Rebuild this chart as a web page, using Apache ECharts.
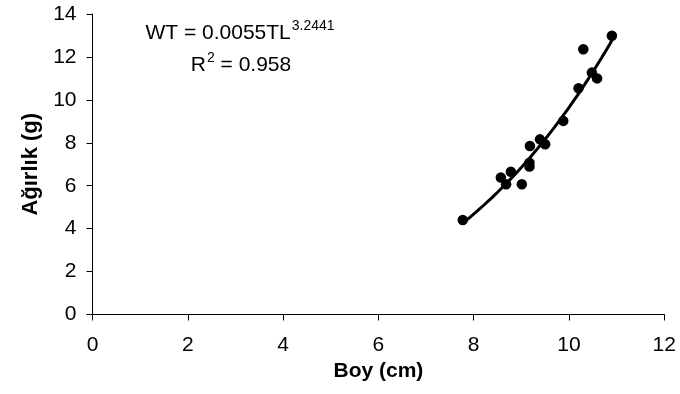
<!DOCTYPE html>
<html>
<head>
<meta charset="utf-8">
<script src="https://cdn.jsdelivr.net/npm/echarts@6/dist/echarts.min.js"></script>
<style>
  html, body { margin: 0; padding: 0; background: #fff; }
  #chart { width: 680px; height: 394px; }
</style>
</head>
<body>
<div id="chart"></div>
<script>
// Length (cm) and weight (g) of each fish
var boy = [7.77, 8.57, 8.68, 8.78, 9.01, 9.17, 9.17, 9.18, 9.39, 9.50, 9.88, 10.20, 10.30, 10.48, 10.59, 10.90];
var agirlik = [4.40, 6.38, 6.07, 6.65, 6.07, 6.89, 7.07, 7.85, 8.16, 7.93, 9.02, 10.54, 12.36, 11.27, 11.00, 12.99];

// Power-law fit WT = a * TL^b and its coefficient of determination
var fitA = 0.0055;
var fitB = 3.2441;
var fitR2 = 0.958;

// Axis tick values
var xTicks = [0, 2, 4, 6, 8, 10, 12];
var yTicks = [0, 2, 4, 6, 8, 10, 12, 14];

var points = boy.map(function (x, i) { return [x, agirlik[i]]; });

// Fitted curve over the observed length range
var xMin = Math.min.apply(null, boy);
var xMax = Math.max.apply(null, boy);
var curve = [];
var steps = 60;
for (var i = 0; i <= steps; i++) {
  var x = xMin + (xMax - xMin) * i / steps;
  curve.push([x, fitA * Math.pow(x, fitB)]);
}

var FONT = "'Liberation Sans', Arial, sans-serif";

var chart = echarts.init(document.getElementById('chart'), null, { renderer: 'canvas' });

function axisCommon(ticks) {
  return {
    type: 'value',
    min: ticks[0],
    max: ticks[ticks.length - 1],
    interval: ticks[1] - ticks[0],
    axisLine: { show: true, lineStyle: { color: '#000', width: 1 } },
    axisTick: { show: true, inside: false, length: 6, lineStyle: { color: '#000', width: 1 } },
    splitLine: { show: false },
    axisLabel: { color: '#000', fontSize: 21, fontFamily: FONT },
    nameLocation: 'middle',
    nameTextStyle: { color: '#000', fontSize: 21, fontWeight: 'bold', fontFamily: FONT }
  };
}

var xAxis = axisCommon(xTicks);
xAxis.name = 'Boy (cm)';
xAxis.nameGap = 46;
xAxis.axisLabel.margin = 20;

var yAxis = axisCommon(yTicks);
yAxis.name = 'Ağırlık (g)';
yAxis.nameGap = 51;
yAxis.nameTextStyle.fontSize = 22;
yAxis.axisLabel.margin = 16;

var mainText = { fontSize: 21, fontFamily: FONT, lineHeight: 32, fill: '#000' };
var supText = { fontSize: 14, fontFamily: FONT, lineHeight: 14, verticalAlign: 'top', padding: [2, 0, 0, 1], fill: '#000' };

chart.setOption({
  animation: false,
  backgroundColor: '#fff',
  grid: { left: 92.5, right: 15.7, top: 14, bottom: 79.5, outerBoundsMode: 'none' },
  xAxis: xAxis,
  yAxis: yAxis,
  graphic: [
    {
      type: 'text',
      x: 240,
      y: 17,
      style: {
        text: '{m|WT = ' + fitA + 'TL}{s|' + fitB + '}',
        align: 'center',
        verticalAlign: 'top',
        fill: '#000',
        rich: { m: mainText, s: supText }
      }
    },
    {
      type: 'text',
      x: 241,
      y: 49,
      style: {
        text: '{m|R}{s|2}{m| = ' + fitR2 + '}',
        align: 'center',
        verticalAlign: 'top',
        fill: '#000',
        rich: { m: mainText, s: supText }
      }
    }
  ],
  series: [
    {
      type: 'line',
      data: curve,
      showSymbol: false,
      smooth: false,
      lineStyle: { color: '#000', width: 3 },
      z: 2
    },
    {
      type: 'scatter',
      data: points,
      symbol: 'circle',
      symbolSize: 10.5,
      itemStyle: { color: '#000', opacity: 1 },
      z: 3
    }
  ]
});
</script>
</body>
</html>
